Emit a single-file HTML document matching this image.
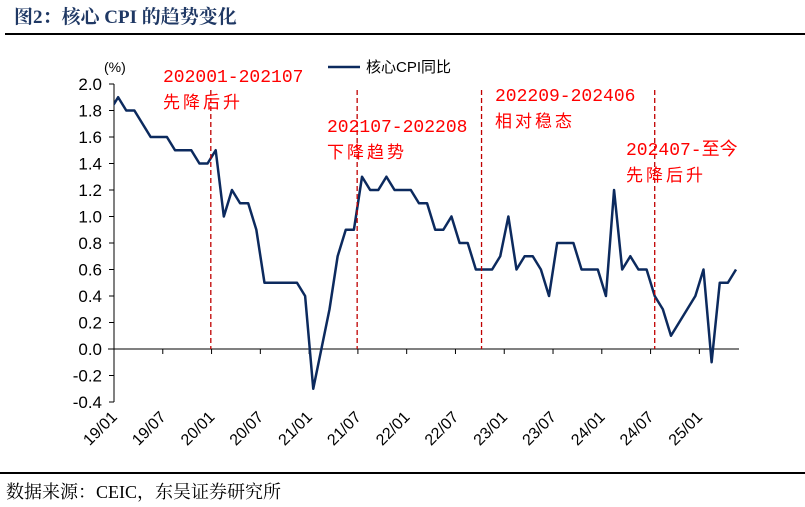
<!DOCTYPE html>
<html><head><meta charset="utf-8"><style>
body{margin:0;background:#fff;}
svg{display:block;font-family:"Liberation Sans","Noto Sans CJK SC",sans-serif;}
</style></head><body>
<svg width="805" height="507" viewBox="0 0 805 507">
<text x="14" y="23" font-size="19" font-weight="bold" fill="#1f3864" font-family="'Liberation Serif','Noto Serif CJK SC',serif">图2：核心 CPI 的趋势变化</text>
<line x1="5" y1="34" x2="805" y2="34" stroke="#000" stroke-width="2"/>
<line x1="0" y1="473" x2="805" y2="473" stroke="#000" stroke-width="2"/>
<text x="6" y="498" font-size="18" fill="#000" font-family="'Liberation Serif','Noto Serif CJK SC',serif">数据来源：CEIC，东吴证券研究所</text>
<text x="104" y="72" font-size="14" fill="#000">(%)</text>
<g id="axes"></g>
<g id="marks"></g>
<line x1="328" y1="67" x2="360" y2="67" stroke="#0c2a5e" stroke-width="2.5"/>
<text x="366" y="72" font-size="15" fill="#000">核心CPI同比</text>
</svg>
<script>
const periodLabels=["202001-202107","202107-202208","202209-202406","202407-至今"];
const periodNotes=["先降后升","下降趋势","相对稳态","先降后升"];
const periodStartIdx=[12.4,30.4,45.7,67];
const tickLabels=["19/01","19/07","20/01","20/07","21/01","21/07","22/01","22/07","23/01","23/07","24/01","24/07","25/01"];
const yTicks=[-0.4,-0.2,0,0.2,0.4,0.6,0.8,1.0,1.2,1.4,1.6,1.8,2.0];
// monthly values from 2018/12 to 2025/05
const values=[1.8,1.9,1.8,1.8,1.7,1.6,1.6,1.6,1.5,1.5,1.5,1.4,1.4,
1.5,1.0,1.2,1.1,1.1,0.9,0.5,0.5,0.5,0.5,0.5,0.4,
-0.3,0.0,0.3,0.7,0.9,0.9,1.3,1.2,1.2,1.3,1.2,1.2,
1.2,1.1,1.1,0.9,0.9,1.0,0.8,0.8,0.6,0.6,0.6,0.7,
1.0,0.6,0.7,0.7,0.6,0.4,0.8,0.8,0.8,0.6,0.6,0.6,
0.4,1.2,0.6,0.7,0.6,0.6,0.4,0.3,0.1,0.2,0.3,0.4,
0.6,-0.1,0.5,0.5,0.6];
const NS="http://www.w3.org/2000/svg";
const X0=110,DX=8.13,AX=114;
const xs=i=>X0+DX*i;
const ys=v=>349-v*132.5;
function mk(t,a,p){const e=document.createElementNS(NS,t);for(const k in a)e.setAttribute(k,a[k]);p.appendChild(e);return e;}
const ax=document.getElementById('axes'),mg=document.getElementById('marks');
let l=mk('line',{x1:AX,y1:ys(2.0),x2:AX,y2:ys(-0.4),stroke:'#000','stroke-width':1},ax);


yTicks.forEach(v=>{
 const t=mk('line',{x1:AX-5,y1:ys(v),x2:AX,y2:ys(v),stroke:'#000'},ax);
 
 
 const tx=mk('text',{x:AX-12,y:ys(v)+6,'font-size':17,'text-anchor':'end',fill:'#000'},ax);
 tx.textContent=v.toFixed(1);
 
 
});
l=mk('line',{x1:108,y1:ys(0),x2:739,y2:ys(0),stroke:'#000','stroke-width':1},ax);


tickLabels.forEach((s,k)=>{
 const x=AX+6*DX*k;
 const t=mk('line',{x1:x,y1:ys(0),x2:x,y2:ys(0)+5,stroke:'#000'},ax);
 
 
 const tx=mk('text',{x:x+4,y:418,'font-size':16,'text-anchor':'end',fill:'#000',transform:`rotate(-45 ${x+4} 418)`},ax);
 tx.textContent=s;
 
 
});
const cp=mk('clipPath',{id:'c'},mg);mk('rect',{x:AX,y:0,width:700,height:507},cp);
const pl=mk('polyline',{points:values.map((v,i)=>xs(i)+','+ys(v)).join(' '),fill:'none',stroke:'#0c2a5e','stroke-width':2.5,'stroke-linejoin':'round','clip-path':'url(#c)'},mg);


const labY=[[82,108],[132,158],[101,127],[155,181]];
const labX=[163,327,495,626];
periodStartIdx.forEach((p,k)=>{
 const x=xs(p);
 const d=mk('line',{x1:x,y1:90,x2:x,y2:ys(0),stroke:'#c00000','stroke-width':1.3,'stroke-dasharray':'5,3'},mg);
 
 
 const t1=mk('text',{x:labX[k],y:labY[k][0],'font-size':18,fill:'#ff0000','font-family':"'Liberation Mono','Noto Sans CJK SC',monospace"},mg);
 t1.textContent=periodLabels[k];
 
 
 const t2=mk('text',{x:labX[k],y:labY[k][1],'font-size':17,fill:'#ff0000','letter-spacing':'3'},mg);
 t2.textContent=periodNotes[k];
 
 
});
</script>
</body></html>
